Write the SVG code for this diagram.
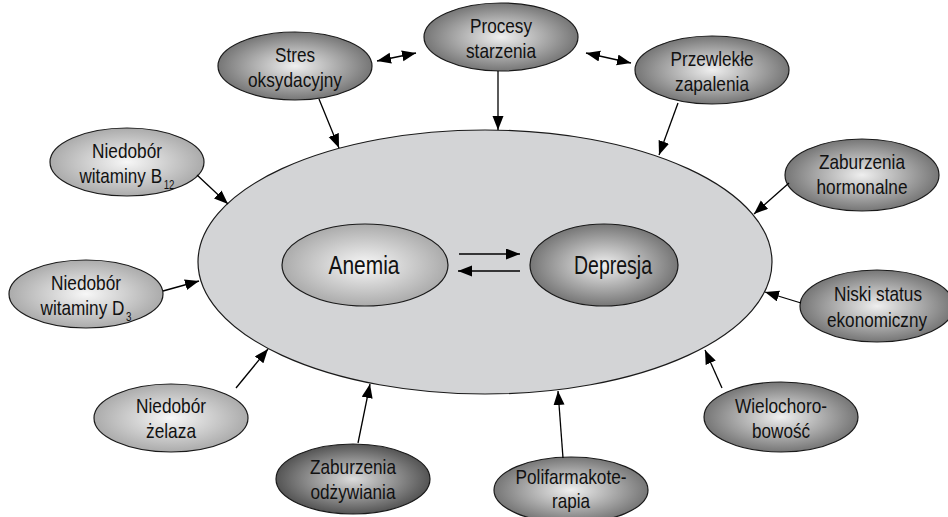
<svg xmlns="http://www.w3.org/2000/svg" width="948" height="517" viewBox="0 0 948 517">
<defs>
<radialGradient id="gLight" cx="0.5" cy="0.5" r="0.5">
<stop offset="0" stop-color="#f7f7f7"/>
<stop offset="1" stop-color="#ababab"/>
</radialGradient>
<radialGradient id="gDark" cx="0.5" cy="0.5" r="0.5">
<stop offset="0" stop-color="#efefef"/>
<stop offset="1" stop-color="#767676"/>
</radialGradient>
<radialGradient id="gDarker" cx="0.5" cy="0.5" r="0.5">
<stop offset="0" stop-color="#dcdcdc"/>
<stop offset="1" stop-color="#545454"/>
</radialGradient>
<marker id="ah" markerUnits="userSpaceOnUse" markerWidth="15" markerHeight="12" refX="14" refY="5.5" orient="auto-start-reverse">
<path d="M0,0 L14,5.5 L0,11 z" fill="#000"/>
</marker>
</defs>
<style>
.node ellipse{stroke:#1a1a1a;stroke-width:1.2}
.light{fill:url(#gLight)}
.dark{fill:url(#gDark)}
.darker{fill:url(#gDarker)}
text{font-family:"Liberation Sans",Arial,sans-serif;font-size:21px;fill:#111;text-anchor:middle}
.big{font-size:25px}
.sub{font-size:12px}
#connectors line{stroke:#000;stroke-width:1.3;marker-end:url(#ah)}
#connectors line.both{marker-start:url(#ah)}
</style>
<rect width="948" height="517" fill="#fff"/>
<g id="main" class="node">
<ellipse cx="485" cy="262" rx="287" ry="132" style="fill:#d3d4d6"/>
</g>
<g id="anemia" class="node">
<ellipse class="light" cx="365" cy="265" rx="83" ry="41"/>
<text class="big" x="364" y="274" textLength="71" lengthAdjust="spacingAndGlyphs">Anemia</text>
</g>
<g id="depresja" class="node">
<ellipse class="dark" cx="604" cy="265" rx="74" ry="41"/>
<text class="big" x="613" y="274" textLength="78" lengthAdjust="spacingAndGlyphs">Depresja</text>
</g>
<g id="stres" class="node">
<ellipse class="dark" cx="295" cy="66" rx="77" ry="34"/>
<text x="295" y="62" textLength="40" lengthAdjust="spacingAndGlyphs">Stres</text>
<text x="295" y="87" textLength="94" lengthAdjust="spacingAndGlyphs">oksydacyjny</text>
</g>
<g id="procesy" class="node">
<ellipse class="dark" cx="501" cy="37" rx="77" ry="34"/>
<text x="501" y="33" textLength="62" lengthAdjust="spacingAndGlyphs">Procesy</text>
<text x="501" y="58" textLength="70" lengthAdjust="spacingAndGlyphs">starzenia</text>
</g>
<g id="przewlekle" class="node">
<ellipse class="dark" cx="712" cy="70" rx="77" ry="34"/>
<text x="712" y="66" textLength="83" lengthAdjust="spacingAndGlyphs">Przewlekłe</text>
<text x="712" y="91" textLength="74" lengthAdjust="spacingAndGlyphs">zapalenia</text>
</g>
<g id="b12" class="node">
<ellipse class="light" cx="127" cy="162" rx="77" ry="34"/>
<text x="127" y="158" textLength="70" lengthAdjust="spacingAndGlyphs">Niedobór</text>
<text x="127" y="183" textLength="95" lengthAdjust="spacingAndGlyphs">witaminy B<tspan class="sub" dx="2" dy="6">12</tspan></text>
</g>
<g id="d3" class="node">
<ellipse class="light" cx="86" cy="294" rx="77" ry="34"/>
<text x="86" y="290" textLength="70" lengthAdjust="spacingAndGlyphs">Niedobór</text>
<text x="86" y="315" textLength="91" lengthAdjust="spacingAndGlyphs">witaminy D<tspan class="sub" dx="2" dy="6">3</tspan></text>
</g>
<g id="zelaza" class="node">
<ellipse class="light" cx="171" cy="418" rx="77" ry="34"/>
<text x="171" y="413" textLength="70" lengthAdjust="spacingAndGlyphs">Niedobór</text>
<text x="171" y="438" textLength="50" lengthAdjust="spacingAndGlyphs">żelaza</text>
</g>
<g id="odzywiania" class="node">
<ellipse class="darker" cx="353" cy="479" rx="77" ry="35"/>
<text x="353" y="474" textLength="86" lengthAdjust="spacingAndGlyphs">Zaburzenia</text>
<text x="353" y="499" textLength="85" lengthAdjust="spacingAndGlyphs">odżywiania</text>
</g>
<g id="polifarmakoterapia" class="node">
<ellipse class="dark" cx="571" cy="490" rx="77" ry="33"/>
<text x="571" y="484" textLength="111" lengthAdjust="spacingAndGlyphs">Polifarmakote-</text>
<text x="571" y="508" textLength="38" lengthAdjust="spacingAndGlyphs">rapia</text>
</g>
<g id="wielochorobowosc" class="node">
<ellipse class="dark" cx="781" cy="417" rx="77" ry="35"/>
<text x="781" y="413" textLength="92" lengthAdjust="spacingAndGlyphs">Wielochoro-</text>
<text x="781" y="438" textLength="58" lengthAdjust="spacingAndGlyphs">bowość</text>
</g>
<g id="niski" class="node">
<ellipse class="dark" cx="877" cy="306" rx="77" ry="36"/>
<text x="878" y="301" textLength="88" lengthAdjust="spacingAndGlyphs">Niski status</text>
<text x="877" y="327" textLength="100" lengthAdjust="spacingAndGlyphs">ekonomiczny</text>
</g>
<g id="hormonalne" class="node">
<ellipse class="dark" cx="862" cy="175" rx="77" ry="36"/>
<text x="862" y="169" textLength="86" lengthAdjust="spacingAndGlyphs">Zaburzenia</text>
<text x="862" y="194" textLength="91" lengthAdjust="spacingAndGlyphs">hormonalne</text>
</g>
<g id="connectors">
<line x1="319" y1="99" x2="339" y2="148"/>
<line x1="498" y1="71" x2="498" y2="130"/>
<line x1="678" y1="103" x2="659" y2="155"/>
<line class="both" x1="377" y1="61" x2="416" y2="53"/>
<line class="both" x1="586" y1="53" x2="631" y2="63"/>
<line x1="197" y1="175" x2="228" y2="204"/>
<line x1="163" y1="291" x2="199" y2="281"/>
<line x1="236" y1="388" x2="268" y2="349"/>
<line x1="358" y1="443" x2="370" y2="384"/>
<line x1="563" y1="458" x2="558" y2="391"/>
<line x1="722" y1="388" x2="705" y2="350"/>
<line x1="801" y1="303" x2="765" y2="292"/>
<line x1="789" y1="183" x2="754" y2="214"/>
<line x1="459" y1="254" x2="520" y2="254"/>
<line x1="520" y1="271" x2="458" y2="271"/>
</g>
</svg>
